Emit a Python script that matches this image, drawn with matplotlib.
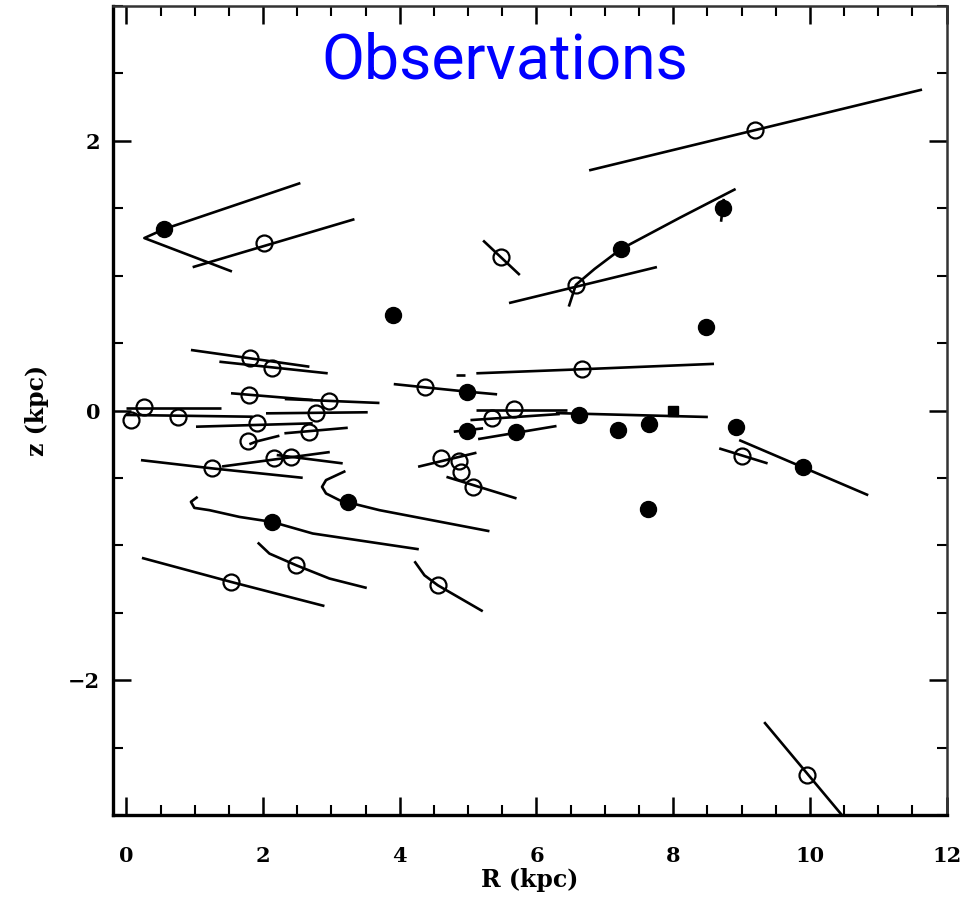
import matplotlib
matplotlib.use("Agg")
import matplotlib.pyplot as plt
from matplotlib.ticker import MultipleLocator

# ---- data (R, z in kpc) ----
open_R = [2.02, 9.195, 6.576, 5.478, 6.659, 4.366, 5.673, 5.356, 4.610, 4.868, 4.893, 5.072,
          9.0, 9.952, 1.815, 2.131, 1.80, 2.961, 0.263, 0.067, 0.751, 2.775, 1.907, 2.678,
          1.775, 1.253, 2.156, 2.409, 2.482, 1.531, 4.556]
open_z = [1.242, 2.083, 0.932, 1.135, 0.306, 0.172, 0.009, -0.058, -0.355, -0.373, -0.455, -0.567,
          -0.338, -2.70, 0.392, 0.318, 0.115, 0.071, 0.028, -0.071, -0.046, -0.021, -0.095, -0.157,
          -0.227, -0.429, -0.353, -0.342, -1.147, -1.271, -1.296]

filled_R = [0.556, 7.234, 8.731, 8.474, 3.902, 6.619, 4.985, 4.99, 5.697, 7.195, 7.644, 8.913,
            9.902, 7.625, 3.249, 2.131]
filled_z = [1.346, 1.197, 1.502, 0.622, 0.709, -0.033, 0.140, -0.152, -0.162, -0.145, -0.100, -0.125,
            -0.417, -0.734, -0.682, -0.826]

sun_R = [8.0]
sun_z = [0.0]

orbit_R = [
    [2.546, 0.556, 0.263, 1.545],
    [0.970, 3.337],
    [6.770, 11.64],
    [8.913, 8.098, 7.234, 6.85, 6.576, 6.473],
    [5.598, 7.762],
    [8.74, 8.70],
    [5.219, 5.756],
    [4.82, 4.96],
    [5.12, 6.659, 8.597],
    [3.912, 4.366, 4.985, 5.424],
    [5.122, 6.440],
    [6.283, 8.507],
    [5.034, 6.341],
    [4.79, 5.219],
    [5.146, 6.293],
    [4.268, 5.122],
    [4.683, 5.708],
    [8.673, 9.381],
    [8.965, 10.853],
    [9.331, 10.55],
    [0.945, 2.678],
    [1.361, 2.946],
    [1.531, 2.726],
    [2.318, 3.703],
    [-0.006, 1.384],
    [-0.006, 1.849],
    [2.043, 3.531],
    [1.019, 2.726],
    [2.312, 3.239],
    [1.80, 1.90, 2.239],
    [0.214, 1.253, 2.58],
    [1.40, 2.976],
    [2.2, 3.165],
    [3.205, 2.921, 2.863, 2.921, 3.117, 3.249, 3.703, 5.312],
    [1.043, 0.945, 0.995, 1.215, 1.654, 2.131, 2.726, 4.278],
    [1.922, 2.093, 2.482, 2.971, 3.517],
    [0.228, 1.531, 2.898],
    [4.215, 4.361, 4.556, 5.214],
]
orbit_z = [
    [1.687, 1.346, 1.279, 1.031],
    [1.063, 1.419],
    [1.781, 2.38],
    [1.643, 1.430, 1.197, 1.05, 0.932, 0.771],
    [0.797, 1.064],
    [1.57, 1.40],
    [1.261, 1.005],
    [0.264, 0.264],
    [0.276, 0.306, 0.346],
    [0.196, 0.172, 0.140, 0.120],
    [0.004, 0.004],
    [-0.019, -0.048],
    [-0.071, -0.026],
    [-0.157, -0.132],
    [-0.212, -0.115],
    [-0.417, -0.313],
    [-0.492, -0.652],
    [-0.281, -0.392],
    [-0.219, -0.628],
    [-2.311, -3.05],
    [0.449, 0.325],
    [0.362, 0.276],
    [0.128, 0.078],
    [0.085, 0.056],
    [0.016, 0.016],
    [-0.033, -0.046],
    [-0.021, -0.013],
    [-0.12, -0.095],
    [-0.169, -0.128],
    [-0.25, -0.23, -0.187],
    [-0.368, -0.429, -0.499],
    [-0.415, -0.308],
    [-0.33, -0.392],
    [-0.449, -0.516, -0.566, -0.615, -0.665, -0.682, -0.739, -0.895],
    [-0.640, -0.677, -0.722, -0.739, -0.789, -0.826, -0.912, -1.029],
    [-0.979, -1.061, -1.147, -1.246, -1.316],
    [-1.093, -1.271, -1.45],
    [-1.118, -1.222, -1.296, -1.489],
]

title_text = "Observations"
xlabel_text = "R (kpc)"
ylabel_text = "z (kpc)"
xticks = [0, 2, 4, 6, 8, 10, 12]
yticks = [-2, 0, 2]

# ---- figure ----
fig = plt.figure(figsize=(9.63, 8.98), dpi=100)
ax = fig.add_axes([0.117, 0.0924, 0.866, 0.9009])

for rr, zz in zip(orbit_R, orbit_z):
    ax.plot(rr, zz, color="black", lw=1.9, solid_capstyle="butt", zorder=2)

ax.plot(open_R, open_z, linestyle="none", marker="o", ms=11.5, mfc="none",
        mec="black", mew=1.6, zorder=3)
ax.plot(filled_R, filled_z, linestyle="none", marker="o", ms=11.5, mfc="black",
        mec="black", mew=1.0, zorder=3)
ax.plot(sun_R, sun_z, linestyle="none", marker="s", ms=6.5, mfc="black",
        mec="black", zorder=3)

ax.set_xlim(-0.2, 12)
ax.set_ylim(-3, 3)

ax.xaxis.set_major_locator(MultipleLocator(2))
ax.xaxis.set_minor_locator(MultipleLocator(0.5))
ax.yaxis.set_major_locator(MultipleLocator(2))
ax.yaxis.set_minor_locator(MultipleLocator(0.5))
ax.set_xticks(xticks)
ax.set_yticks(yticks)

lbl_font = {"family": "DejaVu Serif", "weight": "bold", "size": 15}
ax.set_xticklabels([str(t) for t in xticks], fontdict=lbl_font)
ax.set_yticklabels([str(t).replace("-", "\u2212") for t in yticks], fontdict=lbl_font)

ax.tick_params(which="both", direction="in", top=True, right=True, colors="black")
ax.tick_params(which="major", length=13, width=1.8)
ax.tick_params(which="minor", length=7, width=1.5)
ax.tick_params(axis="x", which="major", pad=22)
ax.tick_params(axis="y", which="major", pad=9)

for side in ["left", "bottom"]:
    ax.spines[side].set_linewidth(2.4)
for side in ["top", "right"]:
    ax.spines[side].set_linewidth(1.8)
    ax.spines[side].set_color("#333333")

ax.set_xlabel(xlabel_text, fontdict={"family": "DejaVu Serif", "weight": "bold", "size": 17}, labelpad=2)
ax.set_ylabel(ylabel_text, fontdict={"family": "DejaVu Serif", "weight": "bold", "size": 17}, labelpad=14)

ax.text(0.470, 0.931, title_text, transform=ax.transAxes, ha="center", va="center",
        color="#0000FF", fontsize=45, family="Roboto")

fig.savefig("out.png", dpi=100)
